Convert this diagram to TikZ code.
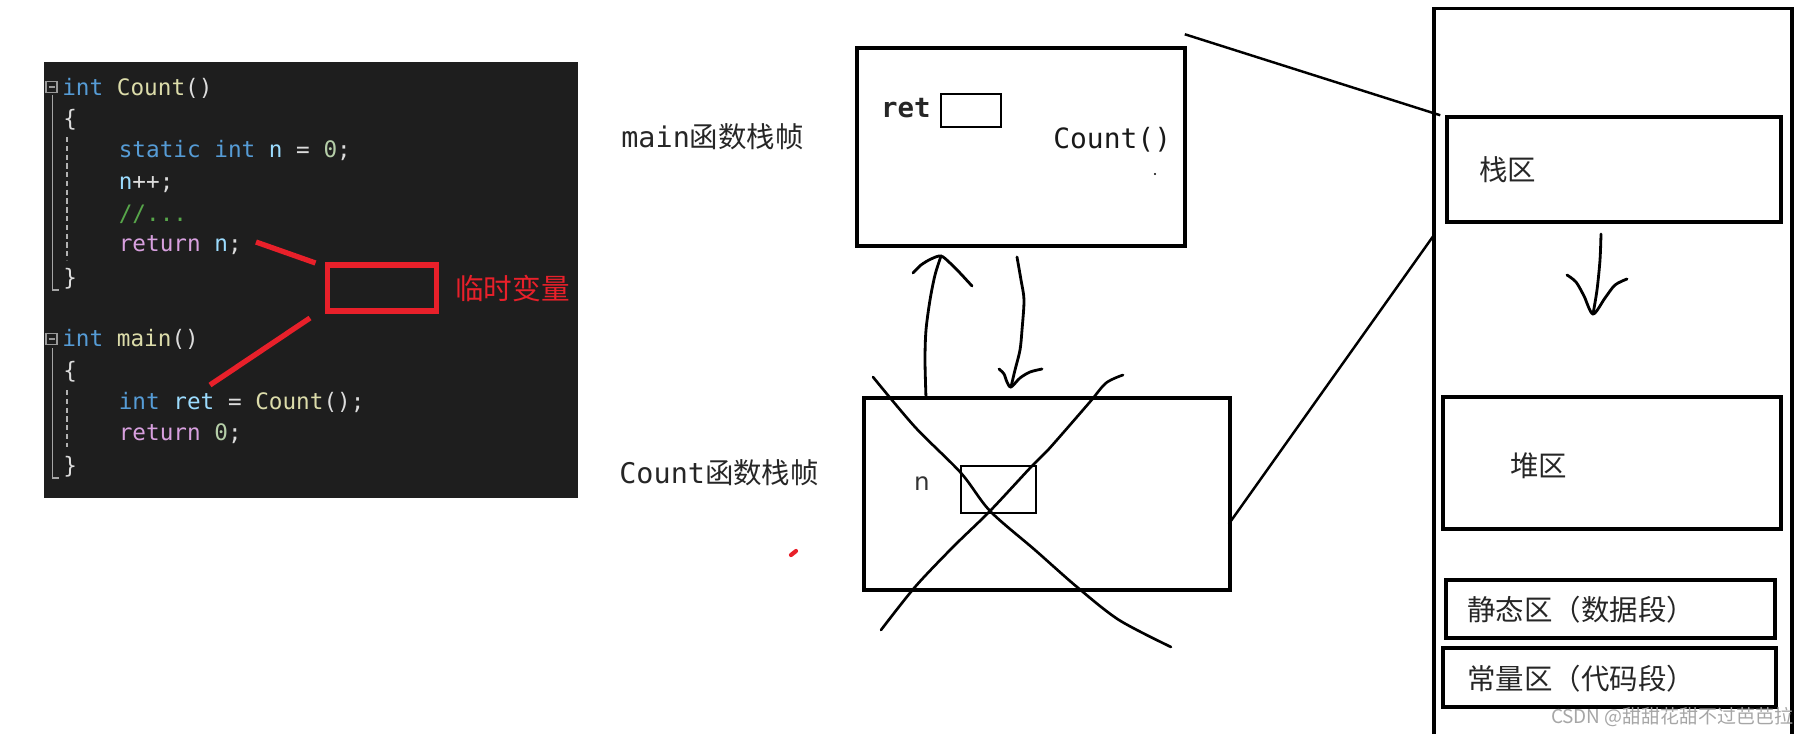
\documentclass[tikz,border=0pt]{standalone}
\usepackage{fontspec}
\usetikzlibrary{fit,calc}
\newfontfamily\codefont{DejaVu Sans Mono}
\newfontfamily\cjk{Noto Sans CJK SC}
\newfontfamily\sansfont{DejaVu Sans}
\definecolor{codebg}{HTML}{1E1E1E}
\definecolor{kwblue}{HTML}{569CD6}
\definecolor{fnyellow}{HTML}{DCDCAA}
\definecolor{varblue}{HTML}{9CDCFE}
\definecolor{numgreen}{HTML}{B5CEA8}
\definecolor{retpink}{HTML}{D8A0DF}
\definecolor{cmtgreen}{HTML}{57A64A}
\definecolor{plaintxt}{HTML}{DCDCDC}
\definecolor{tmpred}{HTML}{E8202A}
\newcommand{\kw}[1]{\textcolor{kwblue}{#1}}
\newcommand{\fn}[1]{\textcolor{fnyellow}{#1}}
\newcommand{\var}[1]{\textcolor{varblue}{#1}}
\newcommand{\num}[1]{\textcolor{numgreen}{#1}}
\newcommand{\rt}[1]{\textcolor{retpink}{#1}}
\begin{document}
\begin{tikzpicture}[x=0.02cm,y=-0.02cm,
  frame/.style={draw,line width=2pt,inner sep=0pt},
  hand/.style={line width=1.6pt,line cap=round,line join=round},
  codeline/.style={anchor=base west,inner sep=0pt,text=plaintxt,
    font=\codefont\fontsize{12.9}{14}\selectfont},
  label/.style={anchor=west,inner sep=0pt,text=black!85,
    font=\fontsize{16.2}{18}\selectfont}]
\useasboundingbox (0,0) rectangle (1813,734);
% code panel
\fill[codebg] (44,62) rectangle (578,498);
\foreach \y/\x/\t [count=\i] in {
  95/62/{\kw{int} \fn{Count}()},
  126.5/63/{\{},
  157.5/118.5/{\kw{static} \kw{int} \var{n} = \num{0};},
  189.5/118.5/{\var{n}++;},
  221.5/118.5/{\textcolor{cmtgreen}{//...}},
  251.5/118.5/{\rt{return} \var{n};},
  285.5/63/{\}},
  346.5/62/{\kw{int} \fn{main}()},
  378.5/63/{\{},
  409.5/118.5/{\kw{int} \var{ret} = \fn{Count}();},
  440.5/118.5/{\rt{return} \num{0};},
  473.5/63/{\}}}
  \node[codeline] (code\i) at (\x,\y) {\t};
% fold marks and guides
\foreach \y in {87,339} {
  \draw[gray!80,line width=0.6pt] (46,\y-5.5) rectangle (57,\y+5.5);
  \draw[gray!80,line width=0.8pt] (48.5,\y) -- (54.5,\y);
}
\draw[gray!70,line width=0.8pt] (52.5,95) -- (52.5,290) -- (59,290);
\draw[gray!70,line width=0.8pt] (52.5,348) -- (52.5,478) -- (59,478);
\draw[gray!60,line width=0.6pt,dash pattern=on 3pt off 2pt] (67,137) -- (67,260);
\draw[gray!60,line width=0.6pt,dash pattern=on 3pt off 2pt] (67,390) -- (67,447);
% temporary variable
\node[draw=tmpred,line width=2.9pt,inner sep=0pt,fit={(327.5,265) (436.7,311)}] (tmp) {};
\node[anchor=west,inner sep=0pt,text=tmpred,font=\cjk\fontsize{16.3}{18}\selectfont] (tmplabel) at (455,289) {临时变量};
\coordinate (retn) at (256,242);
\coordinate (tmpin) at (315.5,263);
\coordinate (retvar) at (210,385);
\coordinate (tmpout) at (310,318);
\draw[tmpred,line width=3pt] (retn) -- (tmpin);
\draw[tmpred,line width=3pt] (retvar) -- (tmpout);
\draw[tmpred,line width=2.4pt,line cap=round] (791,555) -- (796,551);
% stack frames
\node[label] (mainlabel) at (621,137) {{\codefont main}{\cjk 函数栈帧}};
\node[label] (countlabel) at (619,473) {{\codefont Count}{\cjk 函数栈帧}};
\node[frame,fit={(857,48) (1185,246)}] (mainframe) {};
\node[frame,line width=1.6pt,fit={(941,94) (1001,127)}] (retbox) {};
\node[anchor=east,inner sep=0pt,font=\codefont\bfseries\fontsize{15.6}{18}\selectfont,text=black!85] (retlabel) at (931,108) {ret};
\node[anchor=west,inner sep=0pt,font=\codefont\fontsize{15.9}{18}\selectfont,text=black!90] (call) at (1053,140) {Count()};
\fill (1155,174) circle (0.6pt);
\node[frame,fit={(864,398) (1230,590)}] (countframe) {};
\node[frame,line width=1.6pt,fit={(961,466) (1036,513)}] (nbox) {};
\node[inner sep=0pt,font=\sansfont\fontsize{14}{16}\selectfont,text=black!80] (nlabel) at (922,484) {n};
% call and return
\draw[hand] plot[smooth] coordinates {(926,398) (925,360) (926,330) (930,300) (935,275) (941,256)};
\draw[hand] plot[smooth] coordinates {(913,273) (921,265) (931,259) (941,256) (950,263) (960,273) (972,286)};
\draw[hand] plot[smooth] coordinates {(1017,257) (1021,280) (1024,300) (1022,330) (1020,350) (1015,370) (1011,387)};
\draw[hand] plot[smooth] coordinates {(999,369) (1004,374) (1007,382) (1011,387) (1020,378) (1030,372) (1042,369)};
% crossed out
\draw[hand,line width=1.5pt] plot[smooth] coordinates {(873,377) (915,427) (961,473) (990,511) (1035,550) (1077,587) (1119,620) (1171,647)};
\draw[hand,line width=1.5pt] plot[smooth] coordinates {(1123,375) (1106,383) (1089,403) (1048,450) (1031,467) (990,511) (953,547) (915,587) (881,630)};
% memory
\draw[line width=2pt] (1434,734) -- (1434,8.5) -- (1792,8.5) -- (1792,734);
\node[frame,fit={(1447,117) (1781,222)}] (stack) {};
\node[frame,fit={(1443,397) (1781,529)}] (heap) {};
\node[frame,fit={(1446,580) (1775,638)}] (static) {};
\node[frame,fit={(1443,648) (1776,707)}] (const) {};
\node[label,font=\cjk\fontsize{16.2}{18}\selectfont] (stacklabel) at (1479,170) {栈区};
\node[label,font=\cjk\fontsize{16.2}{18}\selectfont] (heaplabel) at (1510,466) {堆区};
\node[label,font=\cjk\fontsize{16.2}{18}\selectfont] (staticlabel) at (1467,610) {静态区（数据段）};
\node[label,font=\cjk\fontsize{16.2}{18}\selectfont] (constlabel) at (1467,679) {常量区（代码段）};
\draw[hand] plot[smooth] coordinates {(1601,234) (1600,260) (1597,290) (1593,314)};
\draw[hand] plot[smooth] coordinates {(1567,275) (1576,282) (1584,296) (1593,314) (1605,298) (1615,285) (1627,279)};
% frames to memory
\coordinate (maincorner) at ($(mainframe.north east)+(-2,-12)$);
\coordinate (colleft) at (1434,235);
\draw[line width=1.4pt] (maincorner) -- ($(stack.north west)+(-5,0)$);
\draw[line width=1.4pt] ($(countframe.east)+(-3,30)$) -- (colleft);
% watermark
\node[anchor=east,inner sep=0pt,text=black!35,font=\cjk\fontsize{10.8}{12}\selectfont] (mark) at (1794,717) {CSDN @甜甜花甜不过芭芭拉};
\end{tikzpicture}
\end{document}
